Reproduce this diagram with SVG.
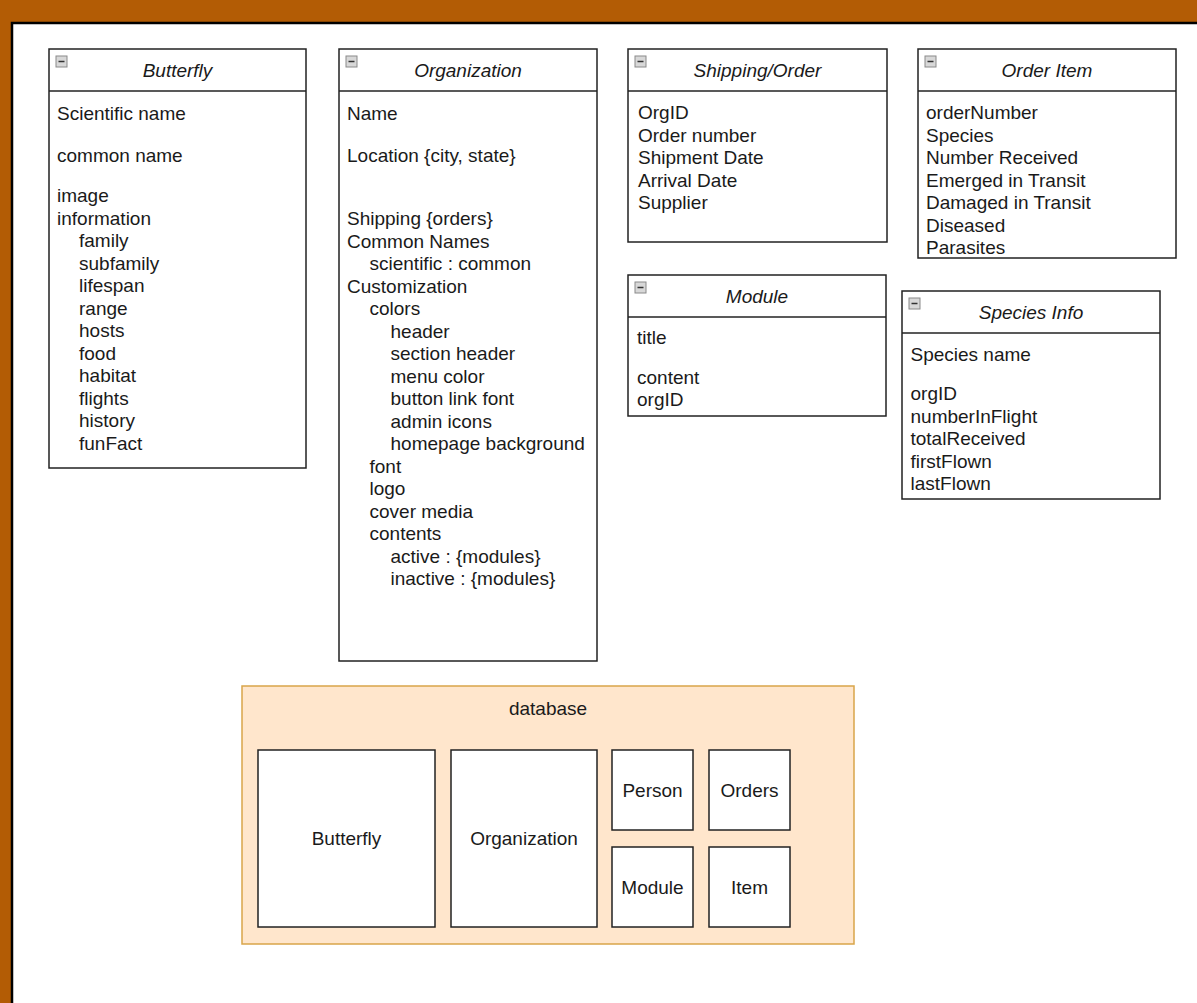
<svg xmlns="http://www.w3.org/2000/svg" width="1197" height="1003" viewBox="0 0 1197 1003">
<defs>
<style>
.box{fill:#ffffff;stroke:#222222;stroke-width:1.5}
.hdr{stroke:#222222;stroke-width:1.5;fill:none}
.t{font-family:"Liberation Sans",Arial,sans-serif;font-size:19px;fill:#1a1a1a}
.ti{font-family:"Liberation Sans",Arial,sans-serif;font-size:19px;font-style:italic;fill:#1a1a1a;text-anchor:middle}
.c{font-family:"Liberation Sans",Arial,sans-serif;font-size:19px;fill:#1a1a1a;text-anchor:middle}
.db{fill:#ffe6cc;stroke:#d9a54a;stroke-width:1.5}
</style>
<g id="minus">
<rect x="0" y="0" width="11" height="11" fill="#d8d8d8" stroke="#8a8a8a" stroke-width="1"/>
<line x1="2.5" y1="5.5" x2="8.5" y2="5.5" stroke="#333333" stroke-width="1.5"/>
</g>
</defs>
<rect x="0" y="0" width="1197" height="1003" fill="#b35c05"/>
<rect x="12" y="23" width="1185" height="980" fill="#ffffff"/>
<path d="M12 1003 V23 H1197" fill="none" stroke="#000000" stroke-width="2.5"/>

<g id="butterfly">
<rect class="box" x="49" y="49" width="257" height="419"/>
<line class="hdr" x1="49" y1="91" x2="306" y2="91"/>
<use href="#minus" x="56" y="56"/>
<text class="ti" x="177.5" y="77">Butterfly</text>
<text class="t" x="57" y="119.5">Scientific name</text>
<text class="t" x="57" y="161.5">common name</text>
<text class="t" x="57" y="202">image</text>
<text class="t" x="57" y="224.5">information</text>
<text class="t" x="79" y="247">family</text>
<text class="t" x="79" y="269.5">subfamily</text>
<text class="t" x="79" y="292">lifespan</text>
<text class="t" x="79" y="314.5">range</text>
<text class="t" x="79" y="337">hosts</text>
<text class="t" x="79" y="359.5">food</text>
<text class="t" x="79" y="382">habitat</text>
<text class="t" x="79" y="404.5">flights</text>
<text class="t" x="79" y="427">history</text>
<text class="t" x="79" y="449.5">funFact</text>
</g>

<g id="organization">
<rect class="box" x="339" y="49" width="258" height="612"/>
<line class="hdr" x1="339" y1="91" x2="597" y2="91"/>
<use href="#minus" x="346" y="56"/>
<text class="ti" x="468" y="77">Organization</text>
<text class="t" x="347" y="119.5">Name</text>
<text class="t" x="347" y="161.5">Location {city, state}</text>
<text class="t" x="347" y="225">Shipping {orders}</text>
<text class="t" x="347" y="247.5">Common Names</text>
<text class="t" x="369.5" y="270">scientific : common</text>
<text class="t" x="347" y="292.5">Customization</text>
<text class="t" x="369.5" y="315">colors</text>
<text class="t" x="390.5" y="337.5">header</text>
<text class="t" x="390.5" y="360">section header</text>
<text class="t" x="390.5" y="382.5">menu color</text>
<text class="t" x="390.5" y="405">button link font</text>
<text class="t" x="390.5" y="427.5">admin icons</text>
<text class="t" x="390.5" y="450">homepage background</text>
<text class="t" x="369.5" y="472.5">font</text>
<text class="t" x="369.5" y="495">logo</text>
<text class="t" x="369.5" y="517.5">cover media</text>
<text class="t" x="369.5" y="540">contents</text>
<text class="t" x="390.5" y="562.5">active : {modules}</text>
<text class="t" x="390.5" y="585">inactive : {modules}</text>
</g>

<g id="shipping-order">
<rect class="box" x="628" y="49" width="259" height="193"/>
<line class="hdr" x1="628" y1="91" x2="887" y2="91"/>
<use href="#minus" x="635" y="56"/>
<text class="ti" x="757.5" y="77">Shipping/Order</text>
<text class="t" x="638" y="119">OrgID</text>
<text class="t" x="638" y="141.5">Order number</text>
<text class="t" x="638" y="164">Shipment Date</text>
<text class="t" x="638" y="186.5">Arrival Date</text>
<text class="t" x="638" y="209">Supplier</text>
</g>

<g id="order-item">
<rect class="box" x="918" y="49" width="258" height="209"/>
<line class="hdr" x1="918" y1="91" x2="1176" y2="91"/>
<use href="#minus" x="925" y="56"/>
<text class="ti" x="1047" y="77">Order Item</text>
<text class="t" x="926" y="119">orderNumber</text>
<text class="t" x="926" y="141.5">Species</text>
<text class="t" x="926" y="164">Number Received</text>
<text class="t" x="926" y="186.5">Emerged in Transit</text>
<text class="t" x="926" y="209">Damaged in Transit</text>
<text class="t" x="926" y="231.5">Diseased</text>
<text class="t" x="926" y="254">Parasites</text>
</g>

<g id="module">
<rect class="box" x="628" y="275" width="258" height="141"/>
<line class="hdr" x1="628" y1="317" x2="886" y2="317"/>
<use href="#minus" x="635" y="282"/>
<text class="ti" x="757" y="303">Module</text>
<text class="t" x="637" y="344">title</text>
<text class="t" x="637" y="383.5">content</text>
<text class="t" x="637" y="406">orgID</text>
</g>

<g id="species-info">
<rect class="box" x="902" y="291" width="258" height="208"/>
<line class="hdr" x1="902" y1="333" x2="1160" y2="333"/>
<use href="#minus" x="909" y="298"/>
<text class="ti" x="1031" y="319">Species Info</text>
<text class="t" x="910.5" y="361">Species name</text>
<text class="t" x="910.5" y="400">orgID</text>
<text class="t" x="910.5" y="422.5">numberInFlight</text>
<text class="t" x="910.5" y="445">totalReceived</text>
<text class="t" x="910.5" y="467.5">firstFlown</text>
<text class="t" x="910.5" y="490">lastFlown</text>
</g>

<g id="database">
<rect class="db" x="242" y="686" width="612" height="258"/>
<text class="c" x="548" y="715">database</text>
<g id="db-butterfly">
<rect class="box" x="258" y="750" width="177" height="177"/>
<text class="c" x="346.5" y="844.5">Butterfly</text>
</g>
<g id="db-organization">
<rect class="box" x="451" y="750" width="146" height="177"/>
<text class="c" x="524" y="844.5">Organization</text>
</g>
<g id="db-person">
<rect class="box" x="612" y="750" width="81" height="80"/>
<text class="c" x="652.5" y="796.5">Person</text>
</g>
<g id="db-orders">
<rect class="box" x="709" y="750" width="81" height="80"/>
<text class="c" x="749.5" y="796.5">Orders</text>
</g>
<g id="db-module">
<rect class="box" x="612" y="847" width="81" height="80"/>
<text class="c" x="652.5" y="893.5">Module</text>
</g>
<g id="db-item">
<rect class="box" x="709" y="847" width="81" height="80"/>
<text class="c" x="749.5" y="893.5">Item</text>
</g>
</g>

<g id="connectors"></g>
</svg>
